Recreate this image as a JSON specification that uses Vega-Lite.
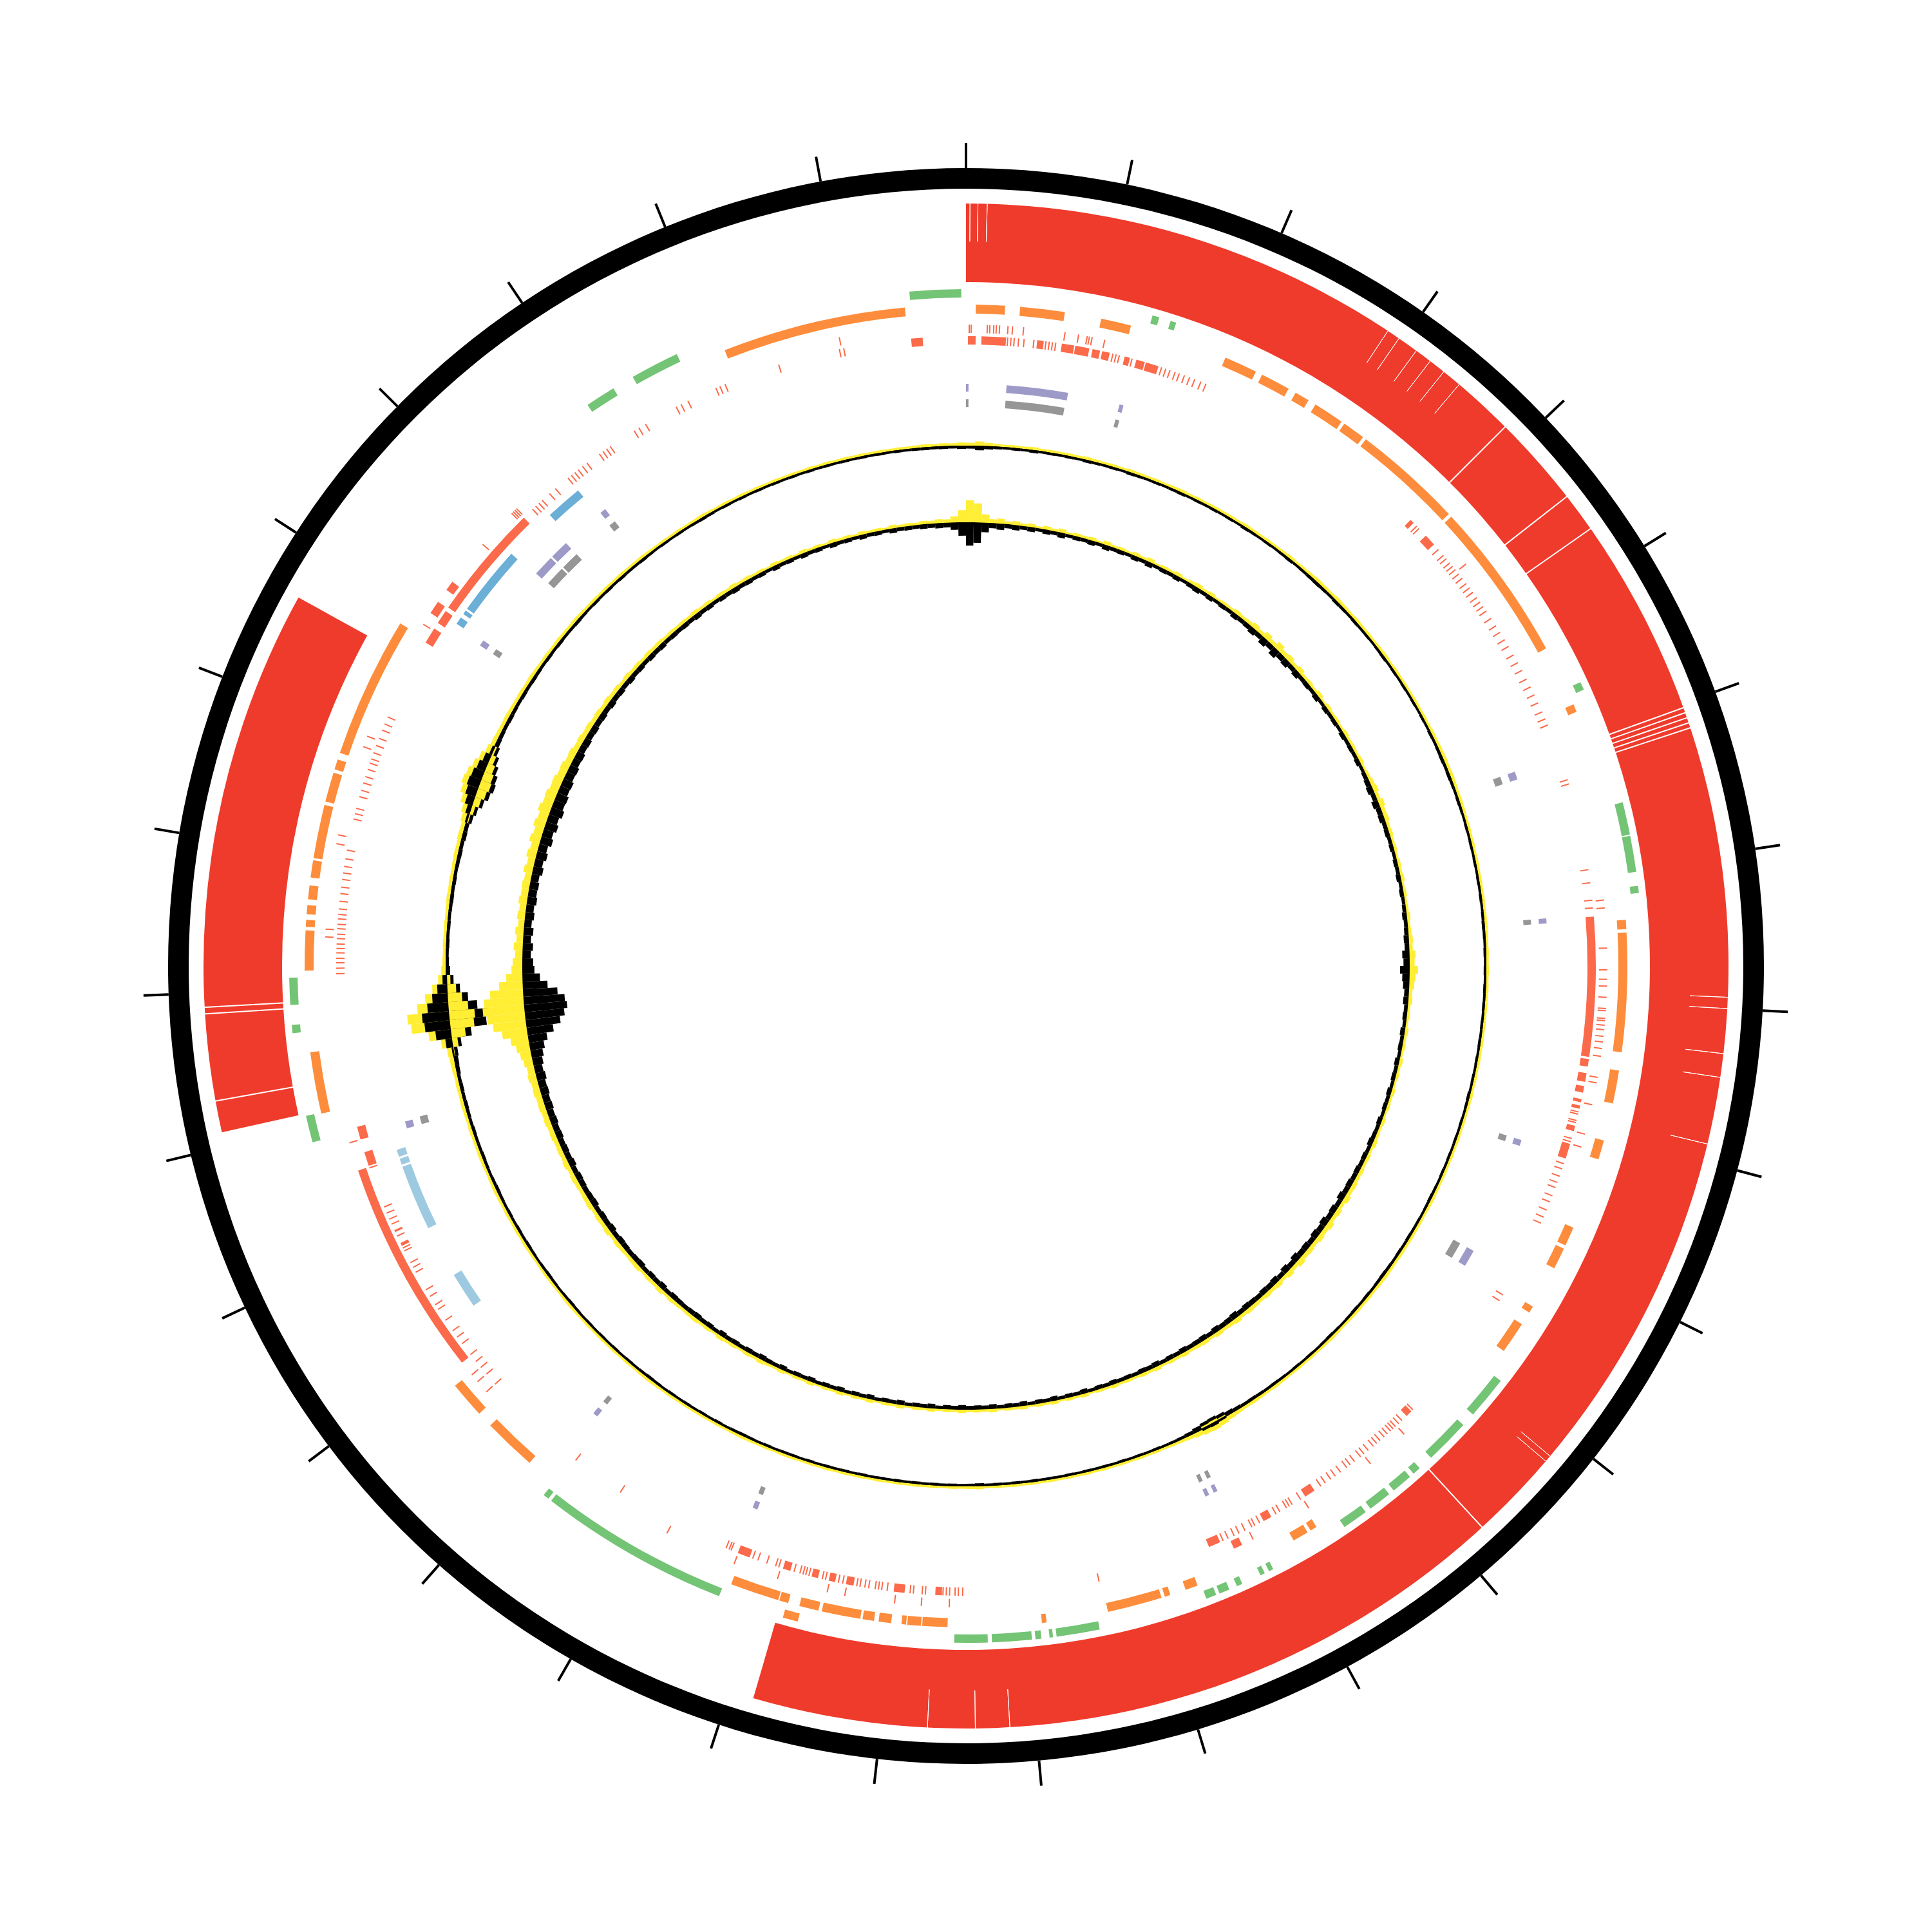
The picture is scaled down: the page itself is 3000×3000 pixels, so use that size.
{
"$schema": "https://vega.github.io/schema/vega-lite/v6.json",
"width": 3000, "height": 3000,
"autosize": {"type": "fit", "contains": "padding"},
"padding": 0,
"background": "#ffffff",
"config": {"view": {"stroke": null}},
"datasets": {
"ring": [{"s": 0, "e": 360}],
"ticks": [{"p":0},{"p":11.65},{"p":23.3},{"p":34.95},{"p":46.6},{"p":58.25},{"p":69.9},{"p":81.55},{"p":93.2},{"p":104.85},{"p":116.5},{"p":128.15},{"p":139.8},{"p":151.45},{"p":163.1},{"p":174.75},{"p":186.4},{"p":198.05},{"p":209.7},{"p":221.35},{"p":233.0},{"p":244.65},{"p":256.3},{"p":267.95},{"p":279.6},{"p":291.25},{"p":302.9},{"p":314.55},{"p":326.2},{"p":337.85},{"p":349.5}],
"band": [{"s":0,"e":196.2},{"s":257.4,"e":298.9}],
"hairF": [{"p":45.0},{"p":52.0},{"p":55.0},{"p":70.2},{"p":70.6},{"p":71.0},{"p":71.4},{"p":71.8},{"p":137.4},{"p":259.8},{"p":266.4},{"p":266.9}],
"hairP": [{"p":0.3},{"p":0.9},{"p":1.6},{"p":33.6},{"p":34.6},{"p":36.2},{"p":37.5},{"p":38.8},{"p":40.3},{"p":92.35},{"p":93.2},{"p":96.6},{"p":98.4},{"p":103.5},{"p":130.0},{"p":130.5},{"p":176.7},{"p":179.3},{"p":182.9}],
"gplus": [{"s":355.2,"e":359.6,"k":"G"},{"s":16.0,"e":16.6,"k":"G"},{"s":17.6,"e":18.1,"k":"G"},{"s":65.2,"e":65.9,"k":"G"},{"s":76.0,"e":78.8,"k":"G"},{"s":78.9,"e":82.0,"k":"G"},{"s":83.2,"e":83.8,"k":"G"},{"s":127.8,"e":131.5,"k":"G"},{"s":132.7,"e":136.6,"k":"G"},{"s":137.9,"e":138.6,"k":"G"},{"s":139.0,"e":140.8,"k":"G"},{"s":141.3,"e":143.3,"k":"G"},{"s":143.8,"e":146.0,"k":"G"},{"s":153.0,"e":153.4,"k":"G"},{"s":153.8,"e":154.2,"k":"G"},{"s":155.9,"e":156.4,"k":"G"},{"s":157.1,"e":158.0,"k":"G"},{"s":158.3,"e":159.2,"k":"G"},{"s":168.6,"e":172.3,"k":"G"},{"s":172.6,"e":172.9,"k":"G"},{"s":173.6,"e":174.1,"k":"G"},{"s":174.4,"e":177.8,"k":"G"},{"s":178.15,"e":181.0,"k":"G"},{"s":194.4,"e":195.7,"k":"O"},{"s":201.4,"e":217.8,"k":"G"},{"s":218.1,"e":218.6,"k":"G"},{"s":254.9,"e":257.2,"k":"G"},{"s":264.3,"e":265.0,"k":"G"},{"s":266.7,"e":269.0,"k":"G"},{"s":326.0,"e":328.6,"k":"G"},{"s":330.5,"e":334.7,"k":"G"}],
"gminus": [{"s":0.85,"e":3.4},{"s":4.7,"e":8.6},{"s":11.8,"e":14.45},{"s":23.1,"e":26.0},{"s":26.6,"e":29.2},{"s":29.9,"e":31.2},{"s":31.9,"e":34.6},{"s":34.9,"e":36.9},{"s":37.2,"e":46.9},{"s":47.2,"e":61.3},{"s":66.7,"e":67.4},{"s":86.0,"e":86.8},{"s":87.1,"e":97.5},{"s":99.1,"e":102.0},{"s":105.3,"e":107.0},{"s":113.3,"e":115.0},{"s":115.3,"e":117.2},{"s":121.0,"e":121.6},{"s":122.8,"e":125.6},{"s":148.0,"e":148.6},{"s":148.9,"e":150.3},{"s":159.5,"e":160.6},{"s":162.0,"e":162.5},{"s":162.8,"e":167.6},{"s":173.0,"e":173.4},{"s":181.6,"e":183.8},{"s":183.9,"e":185.1},{"s":185.2,"e":185.6},{"s":186.5,"e":187.6},{"s":188.0,"e":189.0},{"s":189.2,"e":192.6},{"s":192.9,"e":194.6},{"s":195.6,"e":196.4},{"s":196.5,"e":200.8},{"s":221.3,"e":226.0},{"s":227.4,"e":230.6},{"s":257.1,"e":262.5},{"s":269.6,"e":273.1},{"s":273.4,"e":274.0},{"s":274.5,"e":275.3},{"s":275.8,"e":277.0},{"s":277.7,"e":279.2},{"s":279.4,"e":284.1},{"s":284.4,"e":287.0},{"s":287.3,"e":288.2},{"s":288.8,"e":301.2},{"s":338.6,"e":354.7}],
"rAb": [{"s":154.5,"e":155.3},{"s":231.8,"e":240.9},{"s":240.7,"e":251.4},{"s":303.4,"e":304.6},{"s":305.9,"e":306.8}],
"rAl": [{"p":0.29},{"p":0.46},{"p":1.91},{"p":2.14},{"p":2.49},{"p":2.72},{"p":3.01},{"p":3.76},{"p":4.17},{"p":5.16},{"p":8.89},{"p":10.12},{"p":10.9},{"p":11.1},{"p":11.35},{"p":12.5},{"p":51.2},{"p":84.1},{"p":84.8},{"p":88.4},{"p":90.35},{"p":91.2},{"p":91.8},{"p":92.8},{"p":93.8},{"p":94.0},{"p":94.7},{"p":94.9},{"p":95.3},{"p":95.7},{"p":96.3},{"p":96.8},{"p":97.4},{"p":98.1},{"p":100.0},{"p":100.5},{"p":102.5},{"p":105.2},{"p":106.4},{"p":136.9},{"p":140.9},{"p":147.7},{"p":153.4},{"p":181.5},{"p":184.0},{"p":186.4},{"p":190.9},{"p":192.5},{"p":197.1},{"p":201.2},{"p":207.8},{"p":228.4},{"p":229.6},{"p":230.4},{"p":254.0},{"p":272.6},{"p":273.3},{"p":281.0},{"p":281.8},{"p":290.0},{"p":291.0},{"p":302.2},{"p":311.1},{"p":314.9},{"p":315.1},{"p":315.3},{"p":315.5},{"p":348.6}],
"rBb": [{"s":355.0,"e":356.05},{"s":0.18,"e":0.88},{"s":1.41,"e":3.65},{"s":6.5,"e":7.1},{"s":8.76,"e":9.9},{"s":10.0,"e":11.3},{"s":11.6,"e":12.3},{"s":12.5,"e":13.2},{"s":14.6,"e":15.1},{"s":15.7,"e":16.5},{"s":16.6,"e":17.8},{"s":44.9,"e":45.3},{"s":46.9,"e":48.0},{"s":85.5,"e":98.3},{"s":98.5,"e":99.2},{"s":99.8,"e":100.6},{"s":101.0,"e":101.6},{"s":102.2,"e":102.5},{"s":102.8,"e":103.1},{"s":104.7,"e":105.2},{"s":106.4,"e":107.8},{"s":135.0,"e":135.6},{"s":146.4,"e":147.4},{"s":151.0,"e":151.8},{"s":156.2,"e":157.3},{"s":182.2,"e":182.8},{"s":185.6,"e":186.6},{"s":190.3,"e":191.0},{"s":192.0,"e":192.6},{"s":193.6,"e":194.2},{"s":196.2,"e":196.9},{"s":200.1,"e":201.25},{"s":243.6,"e":243.9},{"s":245.0,"e":245.2},{"s":251.5,"e":252.8},{"s":254.0,"e":255.2},{"s":300.9,"e":302.4},{"s":303.0,"e":304.3},{"s":304.7,"e":315.4}],
"rBl": [{"p":3.8},{"p":4.1},{"p":4.4},{"p":4.8},{"p":5.3},{"p":6.2},{"p":7.3},{"p":7.6},{"p":7.9},{"p":8.2},{"p":13.5},{"p":13.8},{"p":14.1},{"p":15.3},{"p":18.1},{"p":18.5},{"p":18.9},{"p":19.4},{"p":19.8},{"p":20.3},{"p":20.8},{"p":21.3},{"p":21.9},{"p":22.4},{"p":45.7},{"p":46.0},{"p":48.6},{"p":49.3},{"p":49.7},{"p":50.2},{"p":50.6},{"p":51.0},{"p":51.5},{"p":52.0},{"p":52.6},{"p":53.1},{"p":53.6},{"p":54.2},{"p":54.7},{"p":55.2},{"p":55.7},{"p":56.5},{"p":57.3},{"p":58.0},{"p":58.8},{"p":59.5},{"p":60.4},{"p":61.2},{"p":62.0},{"p":62.9},{"p":63.7},{"p":64.5},{"p":65.3},{"p":66.2},{"p":66.9},{"p":67.5},{"p":72.8},{"p":73.2},{"p":81.2},{"p":82.4},{"p":84.0},{"p":84.7},{"p":103.4},{"p":103.6},{"p":104.2},{"p":104.4},{"p":105.9},{"p":106.2},{"p":108.3},{"p":108.8},{"p":109.5},{"p":110.1},{"p":110.6},{"p":111.4},{"p":112.0},{"p":112.8},{"p":113.5},{"p":114.1},{"p":121.5},{"p":122.1},{"p":134.8},{"p":136.2},{"p":136.6},{"p":137.0},{"p":137.3},{"p":137.6},{"p":138.0},{"p":138.4},{"p":138.9},{"p":139.3},{"p":139.7},{"p":140.3},{"p":140.8},{"p":141.2},{"p":141.9},{"p":142.4},{"p":142.8},{"p":143.5},{"p":144.1},{"p":144.6},{"p":145.2},{"p":145.7},{"p":147.9},{"p":148.8},{"p":149.1},{"p":149.4},{"p":150.1},{"p":150.5},{"p":152.2},{"p":152.7},{"p":153.0},{"p":153.7},{"p":154.3},{"p":154.8},{"p":155.4},{"p":155.9},{"p":167.8},{"p":180.3},{"p":180.7},{"p":181.0},{"p":181.5},{"p":181.8},{"p":182.1},{"p":183.7},{"p":184.0},{"p":184.8},{"p":185.1},{"p":187.2},{"p":187.7},{"p":188.0},{"p":188.3},{"p":188.9},{"p":189.25},{"p":189.7},{"p":190.0},{"p":191.3},{"p":191.7},{"p":192.9},{"p":193.2},{"p":194.45},{"p":194.75},{"p":195.0},{"p":195.3},{"p":195.85},{"p":197.3},{"p":197.6},{"p":198.45},{"p":199.3},{"p":199.8},{"p":201.9},{"p":202.1},{"p":202.4},{"p":213.3},{"p":218.3},{"p":228.4},{"p":229.6},{"p":230.4},{"p":231.1},{"p":231.9},{"p":233.15},{"p":233.9},{"p":234.6},{"p":235.76},{"p":236.96},{"p":237.45},{"p":238.35},{"p":239.05},{"p":240.9},{"p":241.4},{"p":241.9},{"p":243.1},{"p":243.4},{"p":244.6},{"p":245.8},{"p":246.3},{"p":246.9},{"p":247.5},{"p":251.3},{"p":269.3},{"p":269.8},{"p":270.3},{"p":270.7},{"p":271.2},{"p":271.6},{"p":272.0},{"p":272.5},{"p":272.9},{"p":273.4},{"p":273.8},{"p":274.3},{"p":274.7},{"p":275.2},{"p":275.9},{"p":276.6},{"p":277.2},{"p":277.9},{"p":278.5},{"p":279.1},{"p":279.8},{"p":280.6},{"p":283.5},{"p":284.0},{"p":284.5},{"p":285.6},{"p":286.2},{"p":286.9},{"p":287.5},{"p":288.2},{"p":288.8},{"p":289.2},{"p":289.8},{"p":290.5},{"p":291.2},{"p":292.0},{"p":292.6},{"p":293.3},{"p":316.5},{"p":316.9},{"p":317.3},{"p":317.7},{"p":318.6},{"p":319.3},{"p":320.8},{"p":321.2},{"p":321.6},{"p":322.0},{"p":322.5},{"p":323.0},{"p":324.4},{"p":324.8},{"p":325.2},{"p":325.6},{"p":328.2},{"p":328.7},{"p":329.4},{"p":332.6},{"p":333.1},{"p":333.8},{"p":336.6},{"p":337.0},{"p":337.5},{"p":342.7},{"p":348.4},{"p":348.8}],
"blue": [{"s":303.9,"e":304.6},{"s":305.0,"e":305.4},{"s":305.6,"e":312.2},{"s":317.3,"e":320.8}],
"lblue": [{"s":235.4,"e":238.9},{"s":244.0,"e":250.4},{"s":250.6,"e":251.2},{"s":251.4,"e":252.1}],
"purple": [{"s":0.0,"e":0.25},{"s":4.0,"e":10.1},{"s":15.3,"e":15.7},{"s":70.5,"e":71.3},{"s":85.3,"e":85.8},{"s":107.4,"e":108.0},{"s":119.3,"e":121.0},{"s":154.4,"e":154.8},{"s":155.3,"e":155.7},{"s":201.0,"e":201.5},{"s":219.3,"e":219.8},{"s":253.8,"e":254.5},{"s":303.4,"e":304.0},{"s":312.4,"e":314.5},{"s":314.7,"e":316.6},{"s":321.1,"e":321.7}],
"grey": [{"s":0.0,"e":0.25},{"s":4.0,"e":10.0},{"s":15.3,"e":15.7},{"s":70.5,"e":71.3},{"s":85.3,"e":85.8},{"s":107.4,"e":108.0},{"s":119.3,"e":121.0},{"s":154.4,"e":154.8},{"s":155.3,"e":155.7},{"s":201.0,"e":201.5},{"s":219.3,"e":219.8},{"s":253.8,"e":254.6},{"s":303.4,"e":304.0},{"s":312.5,"e":314.5},{"s":314.7,"e":316.6},{"s":321.0,"e":321.7}],
"gc": [
{"s":0,"e":1,"a":5,"b":38},{"s":1,"e":2,"a":9,"b":34},{"s":2,"e":3,"a":6,"b":18},{"s":3,"e":4,"a":4,"b":10},{"s":4,"e":5,"a":3,"b":12},{"s":5,"e":6,"a":4,"b":8},{"s":6,"e":7,"a":3,"b":10},{"s":7,"e":8,"a":5,"b":7},{"s":8,"e":9,"a":3,"b":9},{"s":9,"e":10,"a":4,"b":6},
{"s":10,"e":11,"a":3,"b":9},{"s":11,"e":12,"a":4,"b":7},{"s":12,"e":13,"a":3,"b":10},{"s":13,"e":14,"a":5,"b":6},{"s":14,"e":15,"a":4,"b":8},{"s":15,"e":16,"a":3,"b":7},{"s":16,"e":17,"a":4,"b":9},{"s":17,"e":18,"a":3,"b":6},{"s":18,"e":19,"a":5,"b":10},{"s":19,"e":20,"a":4,"b":7},
{"s":20,"e":21,"a":3,"b":8},{"s":21,"e":22,"a":4,"b":6},{"s":22,"e":23,"a":3,"b":9},{"s":23,"e":24,"a":4,"b":7},{"s":24,"e":25,"a":5,"b":10},{"s":25,"e":26,"a":3,"b":6},{"s":26,"e":27,"a":4,"b":8},{"s":27,"e":28,"a":3,"b":7},{"s":28,"e":29,"a":4,"b":9},{"s":29,"e":30,"a":3,"b":6},
{"s":30,"e":31,"a":4,"b":8},{"s":31,"e":32,"a":3,"b":10},{"s":32,"e":33,"a":5,"b":7},{"s":33,"e":34,"a":4,"b":9},{"s":34,"e":35,"a":3,"b":6},{"s":35,"e":36,"a":4,"b":8},{"s":36,"e":37,"a":3,"b":7},{"s":37,"e":38,"a":4,"b":10},{"s":38,"e":39,"a":5,"b":8},{"s":39,"e":40,"a":3,"b":9},
{"s":40,"e":41,"a":4,"b":12},{"s":41,"e":42,"a":5,"b":9},{"s":42,"e":43,"a":6,"b":14},{"s":43,"e":44,"a":5,"b":10},{"s":44,"e":45,"a":4,"b":16},{"s":45,"e":46,"a":6,"b":11},{"s":46,"e":47,"a":5,"b":13},{"s":47,"e":48,"a":4,"b":9},{"s":48,"e":49,"a":5,"b":12},{"s":49,"e":50,"a":4,"b":8},
{"s":50,"e":51,"a":4,"b":9},{"s":51,"e":52,"a":3,"b":7},{"s":52,"e":53,"a":4,"b":10},{"s":53,"e":54,"a":5,"b":6},{"s":54,"e":55,"a":3,"b":9},{"s":55,"e":56,"a":4,"b":7},{"s":56,"e":57,"a":3,"b":8},{"s":57,"e":58,"a":4,"b":6},{"s":58,"e":59,"a":3,"b":9},{"s":59,"e":60,"a":4,"b":7},
{"s":60,"e":61,"a":3,"b":8},{"s":61,"e":62,"a":4,"b":7},{"s":62,"e":63,"a":3,"b":9},{"s":63,"e":64,"a":5,"b":6},{"s":64,"e":65,"a":4,"b":8},{"s":65,"e":66,"a":5,"b":10},{"s":66,"e":67,"a":6,"b":12},{"s":67,"e":68,"a":5,"b":9},{"s":68,"e":69,"a":6,"b":13},{"s":69,"e":70,"a":5,"b":10},
{"s":70,"e":71,"a":4,"b":11},{"s":71,"e":72,"a":5,"b":8},{"s":72,"e":73,"a":4,"b":9},{"s":73,"e":74,"a":3,"b":7},{"s":74,"e":75,"a":4,"b":8},{"s":75,"e":76,"a":3,"b":6},{"s":76,"e":77,"a":4,"b":8},{"s":77,"e":78,"a":3,"b":7},{"s":78,"e":79,"a":4,"b":9},{"s":79,"e":80,"a":3,"b":6},
{"s":80,"e":81,"a":4,"b":8},{"s":81,"e":82,"a":3,"b":6},{"s":82,"e":83,"a":4,"b":7},{"s":83,"e":84,"a":3,"b":9},{"s":84,"e":85,"a":4,"b":7},{"s":85,"e":86,"a":5,"b":8},{"s":86,"e":87,"a":4,"b":10},{"s":87,"e":88,"a":3,"b":9},{"s":88,"e":89,"a":4,"b":14},{"s":89,"e":90,"a":3,"b":12},
{"s":90,"e":91,"a":4,"b":18},{"s":91,"e":92,"a":3,"b":14},{"s":92,"e":93,"a":4,"b":12},{"s":93,"e":94,"a":3,"b":9},{"s":94,"e":95,"a":4,"b":10},{"s":95,"e":96,"a":3,"b":7},{"s":96,"e":97,"a":4,"b":8},{"s":97,"e":98,"a":3,"b":6},{"s":98,"e":99,"a":4,"b":9},{"s":99,"e":100,"a":3,"b":7},
{"s":100,"e":101,"a":4,"b":8},{"s":101,"e":102,"a":3,"b":6},{"s":102,"e":103,"a":4,"b":9},{"s":103,"e":104,"a":3,"b":7},{"s":104,"e":105,"a":5,"b":8},{"s":105,"e":106,"a":4,"b":6},{"s":106,"e":107,"a":3,"b":9},{"s":107,"e":108,"a":4,"b":7},{"s":108,"e":109,"a":3,"b":8},{"s":109,"e":110,"a":4,"b":6},
{"s":110,"e":111,"a":3,"b":9},{"s":111,"e":112,"a":4,"b":7},{"s":112,"e":113,"a":3,"b":8},{"s":113,"e":114,"a":4,"b":10},{"s":114,"e":115,"a":3,"b":7},{"s":115,"e":116,"a":4,"b":9},{"s":116,"e":117,"a":5,"b":8},{"s":117,"e":118,"a":4,"b":10},{"s":118,"e":119,"a":3,"b":9},{"s":119,"e":120,"a":4,"b":11},
{"s":120,"e":121,"a":4,"b":10},{"s":121,"e":122,"a":5,"b":13},{"s":122,"e":123,"a":4,"b":9},{"s":123,"e":124,"a":5,"b":12},{"s":124,"e":125,"a":4,"b":10},{"s":125,"e":126,"a":5,"b":14},{"s":126,"e":127,"a":6,"b":11},{"s":127,"e":128,"a":5,"b":13},{"s":128,"e":129,"a":4,"b":10},{"s":129,"e":130,"a":5,"b":12},
{"s":130,"e":131,"a":4,"b":11},{"s":131,"e":132,"a":5,"b":14},{"s":132,"e":133,"a":4,"b":10},{"s":133,"e":134,"a":3,"b":13},{"s":134,"e":135,"a":4,"b":9},{"s":135,"e":136,"a":5,"b":12},{"s":136,"e":137,"a":4,"b":10},{"s":137,"e":138,"a":3,"b":11},{"s":138,"e":139,"a":4,"b":9},{"s":139,"e":140,"a":3,"b":10},
{"s":140,"e":141,"a":4,"b":11},{"s":141,"e":142,"a":3,"b":9},{"s":142,"e":143,"a":4,"b":12},{"s":143,"e":144,"a":5,"b":10},{"s":144,"e":145,"a":4,"b":9},{"s":145,"e":146,"a":5,"b":11},{"s":146,"e":147,"a":6,"b":8},{"s":147,"e":148,"a":5,"b":10},{"s":148,"e":149,"a":7,"b":9},{"s":149,"e":150,"a":9,"b":8},
{"s":150,"e":151,"a":12,"b":10},{"s":151,"e":152,"a":14,"b":8},{"s":152,"e":153,"a":13,"b":9},{"s":153,"e":154,"a":10,"b":7},{"s":154,"e":155,"a":7,"b":10},{"s":155,"e":156,"a":5,"b":8},{"s":156,"e":157,"a":4,"b":9},{"s":157,"e":158,"a":3,"b":7},{"s":158,"e":159,"a":4,"b":8},{"s":159,"e":160,"a":3,"b":7},
{"s":160,"e":161,"a":4,"b":9},{"s":161,"e":162,"a":3,"b":7},{"s":162,"e":163,"a":4,"b":8},{"s":163,"e":164,"a":3,"b":6},{"s":164,"e":165,"a":4,"b":9},{"s":165,"e":166,"a":3,"b":7},{"s":166,"e":167,"a":4,"b":8},{"s":167,"e":168,"a":3,"b":6},{"s":168,"e":169,"a":4,"b":9},{"s":169,"e":170,"a":3,"b":7},
{"s":170,"e":171,"a":4,"b":8},{"s":171,"e":172,"a":3,"b":6},{"s":172,"e":173,"a":4,"b":9},{"s":173,"e":174,"a":3,"b":7},{"s":174,"e":175,"a":4,"b":8},{"s":175,"e":176,"a":3,"b":6},{"s":176,"e":177,"a":4,"b":9},{"s":177,"e":178,"a":3,"b":7},{"s":178,"e":179,"a":5,"b":8},{"s":179,"e":180,"a":4,"b":7},
{"s":180,"e":181,"a":3,"b":9},{"s":181,"e":182,"a":4,"b":7},{"s":182,"e":183,"a":3,"b":8},{"s":183,"e":184,"a":4,"b":6},{"s":184,"e":185,"a":3,"b":9},{"s":185,"e":186,"a":4,"b":7},{"s":186,"e":187,"a":3,"b":8},{"s":187,"e":188,"a":4,"b":6},{"s":188,"e":189,"a":3,"b":9},{"s":189,"e":190,"a":4,"b":7},
{"s":190,"e":191,"a":3,"b":8},{"s":191,"e":192,"a":4,"b":6},{"s":192,"e":193,"a":3,"b":9},{"s":193,"e":194,"a":4,"b":7},{"s":194,"e":195,"a":3,"b":8},{"s":195,"e":196,"a":4,"b":6},{"s":196,"e":197,"a":3,"b":9},{"s":197,"e":198,"a":4,"b":7},{"s":198,"e":199,"a":3,"b":8},{"s":199,"e":200,"a":4,"b":6},
{"s":200,"e":201,"a":4,"b":9},{"s":201,"e":202,"a":3,"b":7},{"s":202,"e":203,"a":4,"b":8},{"s":203,"e":204,"a":3,"b":6},{"s":204,"e":205,"a":4,"b":9},{"s":205,"e":206,"a":5,"b":7},{"s":206,"e":207,"a":4,"b":8},{"s":207,"e":208,"a":3,"b":10},{"s":208,"e":209,"a":4,"b":8},{"s":209,"e":210,"a":3,"b":9},
{"s":210,"e":211,"a":4,"b":7},{"s":211,"e":212,"a":3,"b":9},{"s":212,"e":213,"a":4,"b":8},{"s":213,"e":214,"a":3,"b":10},{"s":214,"e":215,"a":4,"b":7},{"s":215,"e":216,"a":3,"b":9},{"s":216,"e":217,"a":4,"b":8},{"s":217,"e":218,"a":5,"b":10},{"s":218,"e":219,"a":4,"b":9},{"s":219,"e":220,"a":3,"b":8},
{"s":220,"e":221,"a":4,"b":9},{"s":221,"e":222,"a":3,"b":10},{"s":222,"e":223,"a":4,"b":8},{"s":223,"e":224,"a":3,"b":11},{"s":224,"e":225,"a":4,"b":9},{"s":225,"e":226,"a":3,"b":10},{"s":226,"e":227,"a":4,"b":8},{"s":227,"e":228,"a":3,"b":11},{"s":228,"e":229,"a":4,"b":10},{"s":229,"e":230,"a":5,"b":9},
{"s":230,"e":231,"a":4,"b":10},{"s":231,"e":232,"a":3,"b":11},{"s":232,"e":233,"a":4,"b":9},{"s":233,"e":234,"a":5,"b":12},{"s":234,"e":235,"a":4,"b":10},{"s":235,"e":236,"a":3,"b":11},{"s":236,"e":237,"a":4,"b":9},{"s":237,"e":238,"a":5,"b":12},{"s":238,"e":239,"a":4,"b":11},{"s":239,"e":240,"a":5,"b":10},
{"s":240,"e":241,"a":4,"b":11},{"s":241,"e":242,"a":5,"b":12},{"s":242,"e":243,"a":4,"b":10},{"s":243,"e":244,"a":5,"b":13},{"s":244,"e":245,"a":6,"b":11},{"s":245,"e":246,"a":5,"b":12},{"s":246,"e":247,"a":4,"b":11},{"s":247,"e":248,"a":5,"b":13},{"s":248,"e":249,"a":6,"b":12},{"s":249,"e":250,"a":5,"b":14},
{"s":250,"e":251,"a":5,"b":13},{"s":251,"e":252,"a":6,"b":15},{"s":252,"e":253,"a":5,"b":14},{"s":253,"e":254,"a":6,"b":16},{"s":254,"e":255,"a":7,"b":15},{"s":255,"e":256,"a":6,"b":18},{"s":256,"e":257,"a":7,"b":16},{"s":257,"e":258,"a":6,"b":19},{"s":258,"e":259,"a":8,"b":22},{"s":259,"e":260,"a":9,"b":26},
{"s":260,"e":261,"a":11,"b":32},{"s":261,"e":262,"a":20,"b":42},{"s":262,"e":263,"a":36,"b":52},{"s":263,"e":264,"a":54,"b":58},{"s":264,"e":265,"a":57,"b":62},{"s":265,"e":266,"a":46,"b":60},{"s":266,"e":267,"a":36,"b":52},{"s":267,"e":268,"a":26,"b":40},{"s":268,"e":269,"a":16,"b":30},{"s":269,"e":270,"a":9,"b":22},
{"s":270,"e":271,"a":6,"b":20},{"s":271,"e":272,"a":5,"b":16},{"s":272,"e":273,"a":6,"b":19},{"s":273,"e":274,"a":5,"b":15},{"s":274,"e":275,"a":6,"b":18},{"s":275,"e":276,"a":5,"b":14},{"s":276,"e":277,"a":6,"b":17},{"s":277,"e":278,"a":7,"b":15},{"s":278,"e":279,"a":6,"b":18},{"s":279,"e":280,"a":7,"b":16},
{"s":280,"e":281,"a":6,"b":17},{"s":281,"e":282,"a":7,"b":15},{"s":282,"e":283,"a":8,"b":19},{"s":283,"e":284,"a":7,"b":16},{"s":284,"e":285,"a":9,"b":20},{"s":285,"e":286,"a":8,"b":17},{"s":286,"e":287,"a":12,"b":22},{"s":287,"e":288,"a":16,"b":19},{"s":288,"e":289,"a":22,"b":23},{"s":289,"e":290,"a":27,"b":20},
{"s":290,"e":291,"a":30,"b":24},{"s":291,"e":292,"a":28,"b":21},{"s":292,"e":293,"a":24,"b":22},{"s":293,"e":294,"a":19,"b":19},{"s":294,"e":295,"a":13,"b":20},{"s":295,"e":296,"a":9,"b":17},{"s":296,"e":297,"a":8,"b":18},{"s":297,"e":298,"a":7,"b":15},{"s":298,"e":299,"a":8,"b":16},{"s":299,"e":300,"a":7,"b":13},
{"s":300,"e":301,"a":6,"b":14},{"s":301,"e":302,"a":7,"b":12},{"s":302,"e":303,"a":6,"b":13},{"s":303,"e":304,"a":7,"b":11},{"s":304,"e":305,"a":6,"b":12},{"s":305,"e":306,"a":5,"b":10},{"s":306,"e":307,"a":6,"b":12},{"s":307,"e":308,"a":5,"b":10},{"s":308,"e":309,"a":6,"b":11},{"s":309,"e":310,"a":5,"b":9},
{"s":310,"e":311,"a":5,"b":11},{"s":311,"e":312,"a":6,"b":9},{"s":312,"e":313,"a":5,"b":10},{"s":313,"e":314,"a":4,"b":8},{"s":314,"e":315,"a":5,"b":10},{"s":315,"e":316,"a":4,"b":9},{"s":316,"e":317,"a":5,"b":10},{"s":317,"e":318,"a":4,"b":8},{"s":318,"e":319,"a":5,"b":9},{"s":319,"e":320,"a":4,"b":8},
{"s":320,"e":321,"a":4,"b":9},{"s":321,"e":322,"a":5,"b":8},{"s":322,"e":323,"a":4,"b":10},{"s":323,"e":324,"a":3,"b":8},{"s":324,"e":325,"a":4,"b":9},{"s":325,"e":326,"a":3,"b":7},{"s":326,"e":327,"a":4,"b":9},{"s":327,"e":328,"a":3,"b":8},{"s":328,"e":329,"a":4,"b":10},{"s":329,"e":330,"a":5,"b":8},
{"s":330,"e":331,"a":4,"b":9},{"s":331,"e":332,"a":3,"b":7},{"s":332,"e":333,"a":4,"b":8},{"s":333,"e":334,"a":3,"b":6},{"s":334,"e":335,"a":4,"b":9},{"s":335,"e":336,"a":3,"b":7},{"s":336,"e":337,"a":4,"b":8},{"s":337,"e":338,"a":3,"b":6},{"s":338,"e":339,"a":4,"b":9},{"s":339,"e":340,"a":3,"b":7},
{"s":340,"e":341,"a":4,"b":8},{"s":341,"e":342,"a":3,"b":6},{"s":342,"e":343,"a":4,"b":9},{"s":343,"e":344,"a":3,"b":7},{"s":344,"e":345,"a":4,"b":8},{"s":345,"e":346,"a":3,"b":6},{"s":346,"e":347,"a":4,"b":9},{"s":347,"e":348,"a":3,"b":7},{"s":348,"e":349,"a":4,"b":8},{"s":349,"e":350,"a":3,"b":6},
{"s":350,"e":351,"a":4,"b":9},{"s":351,"e":352,"a":3,"b":7},{"s":352,"e":353,"a":4,"b":8},{"s":353,"e":354,"a":3,"b":7},{"s":354,"e":355,"a":4,"b":9},{"s":355,"e":356,"a":5,"b":8},{"s":356,"e":357,"a":4,"b":10},{"s":357,"e":358,"a":5,"b":9},{"s":358,"e":359,"a":4,"b":14},{"s":359,"e":360,"a":6,"b":24}
]
},
"layer": [
{"data": {"name": "ring"}, "mark": {"type": "arc", "innerRadius": 1207, "outerRadius": 1239, "color": "#000000"},
 "encoding": {"theta": {"field": "s", "type": "quantitative", "scale": {"domain": [0, 360], "range": [0, 6.283185307179586]}, "stack": null}, "theta2": {"field": "e"}}},
{"data": {"name": "ticks"}, "mark": {"type": "arc", "innerRadius": 1239, "outerRadius": 1278, "stroke": "#000000", "strokeWidth": 4, "fill": "#000000"},
 "encoding": {"theta": {"field": "p", "type": "quantitative", "scale": {"domain": [0, 360], "range": [0, 6.283185307179586]}, "stack": null}, "theta2": {"field": "p"}}},
{"data": {"name": "band"}, "mark": {"type": "arc", "innerRadius": 1062, "outerRadius": 1184, "color": "#ef3b2c"},
 "encoding": {"theta": {"field": "s", "type": "quantitative", "scale": {"domain": [0, 360], "range": [0, 6.283185307179586]}, "stack": null}, "theta2": {"field": "e"}}},
{"data": {"name": "hairF"}, "mark": {"type": "arc", "innerRadius": 1060, "outerRadius": 1186, "stroke": "#ffffff", "strokeWidth": 2},
 "encoding": {"theta": {"field": "p", "type": "quantitative", "scale": {"domain": [0, 360], "range": [0, 6.283185307179586]}, "stack": null}, "theta2": {"field": "p"}}},
{"data": {"name": "hairP"}, "mark": {"type": "arc", "innerRadius": 1125, "outerRadius": 1186, "stroke": "#ffffff", "strokeWidth": 1},
 "encoding": {"theta": {"field": "p", "type": "quantitative", "scale": {"domain": [0, 360], "range": [0, 6.283185307179586]}, "stack": null}, "theta2": {"field": "p"}}},
{"data": {"name": "gplus"}, "mark": {"type": "arc", "innerRadius": 1038, "outerRadius": 1051},
 "encoding": {"theta": {"field": "s", "type": "quantitative", "scale": {"domain": [0, 360], "range": [0, 6.283185307179586]}, "stack": null}, "theta2": {"field": "e"},
  "color": {"field": "k", "type": "nominal", "scale": {"domain": ["G", "O"], "range": ["#74c476", "#fd8d3c"]}, "legend": null}}},
{"data": {"name": "gminus"}, "mark": {"type": "arc", "innerRadius": 1013, "outerRadius": 1027, "color": "#fd8d3c"},
 "encoding": {"theta": {"field": "s", "type": "quantitative", "scale": {"domain": [0, 360], "range": [0, 6.283185307179586]}, "stack": null}, "theta2": {"field": "e"}}},
{"data": {"name": "rAb"}, "mark": {"type": "arc", "innerRadius": 983, "outerRadius": 996, "color": "#fb6a4a"},
 "encoding": {"theta": {"field": "s", "type": "quantitative", "scale": {"domain": [0, 360], "range": [0, 6.283185307179586]}, "stack": null}, "theta2": {"field": "e"}}},
{"data": {"name": "rAl"}, "mark": {"type": "arc", "innerRadius": 983, "outerRadius": 996, "stroke": "#fb6a4a", "strokeWidth": 2, "fill": "#fb6a4a"},
 "encoding": {"theta": {"field": "p", "type": "quantitative", "scale": {"domain": [0, 360], "range": [0, 6.283185307179586]}, "stack": null}, "theta2": {"field": "p"}}},
{"data": {"name": "rBb"}, "mark": {"type": "arc", "innerRadius": 965, "outerRadius": 978, "color": "#fb6a4a"},
 "encoding": {"theta": {"field": "s", "type": "quantitative", "scale": {"domain": [0, 360], "range": [0, 6.283185307179586]}, "stack": null}, "theta2": {"field": "e"}}},
{"data": {"name": "rBl"}, "mark": {"type": "arc", "innerRadius": 965, "outerRadius": 978, "stroke": "#fb6a4a", "strokeWidth": 2, "fill": "#fb6a4a"},
 "encoding": {"theta": {"field": "p", "type": "quantitative", "scale": {"domain": [0, 360], "range": [0, 6.283185307179586]}, "stack": null}, "theta2": {"field": "p"}}},
{"data": {"name": "blue"}, "mark": {"type": "arc", "innerRadius": 940, "outerRadius": 953, "color": "#6baed6"},
 "encoding": {"theta": {"field": "s", "type": "quantitative", "scale": {"domain": [0, 360], "range": [0, 6.283185307179586]}, "stack": null}, "theta2": {"field": "e"}}},
{"data": {"name": "lblue"}, "mark": {"type": "arc", "innerRadius": 915, "outerRadius": 929, "color": "#9ecae1"},
 "encoding": {"theta": {"field": "s", "type": "quantitative", "scale": {"domain": [0, 360], "range": [0, 6.283185307179586]}, "stack": null}, "theta2": {"field": "e"}}},
{"data": {"name": "purple"}, "mark": {"type": "arc", "innerRadius": 892, "outerRadius": 904, "color": "#9e9ac8"},
 "encoding": {"theta": {"field": "s", "type": "quantitative", "scale": {"domain": [0, 360], "range": [0, 6.283185307179586]}, "stack": null}, "theta2": {"field": "e"}}},
{"data": {"name": "grey"}, "mark": {"type": "arc", "innerRadius": 868, "outerRadius": 880, "color": "#969696"},
 "encoding": {"theta": {"field": "s", "type": "quantitative", "scale": {"domain": [0, 360], "range": [0, 6.283185307179586]}, "stack": null}, "theta2": {"field": "e"}}},
{"data": {"name": "gc"}, "mark": {"type": "arc", "innerRadius": 806, "color": "#ffee33"},
 "encoding": {"theta": {"field": "s", "type": "quantitative", "scale": {"domain": [0, 360], "range": [0, 6.283185307179586]}, "stack": null}, "theta2": {"field": "e"},
  "radius": {"field": "a", "type": "quantitative", "scale": {"type": "pow", "exponent": 1.5, "domain": [0, 80], "range": [811, 911]}}}},
{"data": {"name": "gc"}, "mark": {"type": "arc", "innerRadius": 808, "color": "#000000"},
 "encoding": {"theta": {"field": "s", "type": "quantitative", "scale": {"domain": [0, 360], "range": [0, 6.283185307179586]}, "stack": null}, "theta2": {"field": "e"},
  "radius": {"field": "a", "type": "quantitative", "scale": {"type": "pow", "exponent": 1.5, "domain": [0, 80], "range": [805, 705]}}}},
{"data": {"name": "gc"}, "mark": {"type": "arc", "innerRadius": 806, "color": "#000000"},
 "encoding": {"theta": {"field": "s", "type": "quantitative", "scale": {"domain": [0, 360], "range": [0, 6.283185307179586]}, "stack": null}, "theta2": {"field": "e"},
  "radius": {"field": "a", "type": "quantitative", "scale": {"type": "linear", "domain": [10, 100], "range": [808, 885], "clamp": true, "zero": false}}}},
{"data": {"name": "gc"}, "mark": {"type": "arc", "innerRadius": 806, "color": "#ffee33"},
 "encoding": {"theta": {"field": "s", "type": "quantitative", "scale": {"domain": [0, 360], "range": [0, 6.283185307179586]}, "stack": null}, "theta2": {"field": "e"},
  "radius": {"field": "a", "type": "quantitative", "scale": {"type": "linear", "domain": [10, 100], "range": [806, 730], "clamp": true, "zero": false}}}},
{"data": {"name": "gc"}, "mark": {"type": "arc", "innerRadius": 687, "color": "#ffee33"},
 "encoding": {"theta": {"field": "s", "type": "quantitative", "scale": {"domain": [0, 360], "range": [0, 6.283185307179586]}, "stack": null}, "theta2": {"field": "e"},
  "radius": {"field": "b", "type": "quantitative", "scale": {"type": "pow", "exponent": 1.3, "domain": [0, 80], "range": [689, 779]}}}},
{"data": {"name": "gc"}, "mark": {"type": "arc", "innerRadius": 689, "color": "#000000"},
 "encoding": {"theta": {"field": "s", "type": "quantitative", "scale": {"domain": [0, 360], "range": [0, 6.283185307179586]}, "stack": null}, "theta2": {"field": "e"},
  "radius": {"field": "b", "type": "quantitative", "scale": {"type": "pow", "exponent": 1.3, "domain": [0, 80], "range": [687, 597]}}}}
],
"resolve": {"scale": {"radius": "independent"}}
}
